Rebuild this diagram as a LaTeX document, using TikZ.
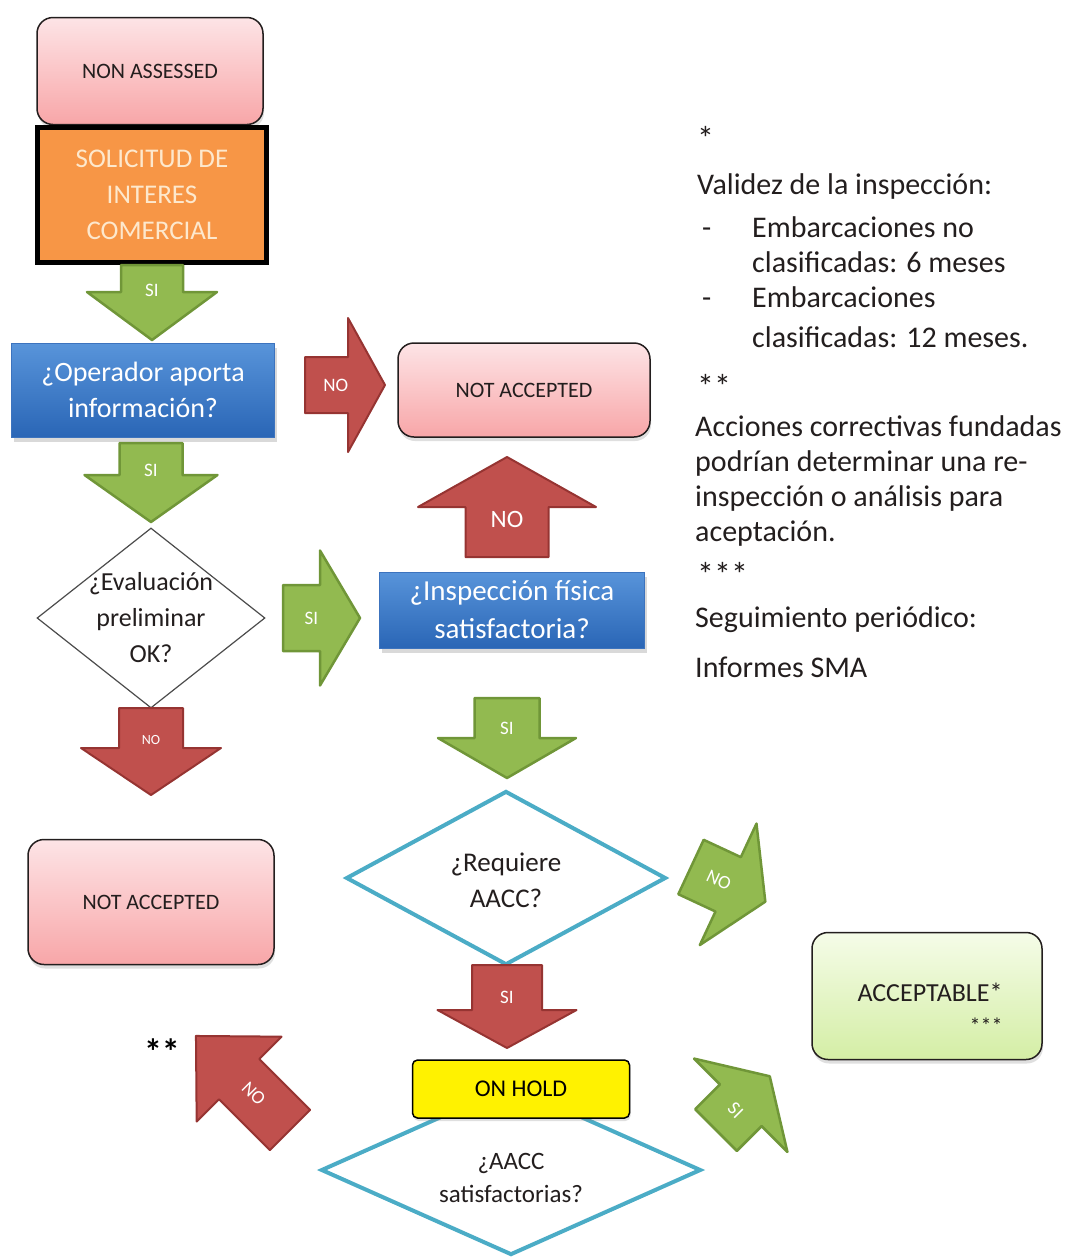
\documentclass[tikz,border=0pt]{standalone}
\usepackage{fontspec}
\setmainfont{Carlito}
\usepackage{tikz}
\usetikzlibrary{shapes.geometric,shadows}

\definecolor{pinktop}{RGB}{253,228,230}
\definecolor{pinkbot}{RGB}{248,166,168}
\definecolor{orangefill}{RGB}{247,150,70}
\definecolor{orangetext}{RGB}{253,232,205}
\definecolor{bluetop}{RGB}{88,148,218}
\definecolor{bluebot}{RGB}{42,102,182}
\definecolor{blueline}{RGB}{60,115,190}
\definecolor{arrowgreen}{RGB}{146,186,80}
\definecolor{arrowgreenline}{RGB}{112,150,56}
\definecolor{arrowred}{RGB}{192,80,77}
\definecolor{arrowredline}{RGB}{150,52,50}
\definecolor{diacyan}{RGB}{75,172,198}
\definecolor{greentop}{RGB}{245,252,232}
\definecolor{greenbot}{RGB}{212,238,165}
\definecolor{txt}{RGB}{35,30,30}

% style, name, tail, angle, length, shaft width, head width, head length
\newcommand{\fatarrow}[8]{%
  \begin{scope}[shift={#3}, rotate=#4]
    \path[#1] (0,-#6/2) -- (#5-#8,-#6/2) -- (#5-#8,-#7/2) -- (#5,0)
      -- (#5-#8,#7/2) -- (#5-#8,#6/2) -- (0,#6/2) -- cycle;
    \coordinate (#2) at (#5/2-#8/4,0);
  \end{scope}}

\tikzset{
  pinkbox/.style={draw=txt, line width=1.5pt, rounded corners=16pt, top color=pinktop, bottom color=pinkbot,
    text=txt, font=\fontsize{22}{26}\selectfont, drop shadow={shadow xshift=1pt, shadow yshift=-4pt, opacity=0.25}},
  bluebox/.style={draw=blueline, line width=1pt, top color=bluetop, bottom color=bluebot, text=white, align=center,
    drop shadow={shadow xshift=2pt, shadow yshift=-5pt, opacity=0.3}},
  greenarrow/.style={fill=arrowgreen, draw=arrowgreenline, line width=2.5pt, line join=round},
  redarrow/.style={fill=arrowred, draw=arrowredline, line width=2pt, line join=round},
  lbl/.style={text=white, font=\fontsize{19}{19}\selectfont, inner sep=1pt},
  dia/.style={diamond, draw=diacyan, line width=4pt, fill=white, inner sep=0pt},
  diatext/.style={align=center, text=txt},
  note/.style={anchor=base west, text=txt, font=\fontsize{30}{35}\selectfont, inner sep=0pt},
  stars/.style={anchor=base west, text=txt, font=\fontsize{34}{34}\selectfont, inner sep=0pt}
}

\begin{document}
\begin{tikzpicture}[x=1pt, y=1pt]
\useasboundingbox (0,0) rectangle (1072,-1259);

\node[pinkbox, minimum width=226pt, minimum height=107pt] (nonassessed) at (150,-71) {NON ASSESSED};
\node[draw=black, line width=5pt, fill=orangefill, minimum width=229pt, minimum height=135pt, text=orangetext,
  align=center, font=\fontsize{27}{36}\selectfont] (solicitud) at (152,-195) {SOLICITUD DE\\INTERES\\COMERCIAL};

\fatarrow{greenarrow}{si1}{(152,-265)}{-90}{75}{62}{130}{48}
\node[lbl] (si1text) at (si1) {SI};

\node[bluebox, minimum width=263pt, minimum height=94pt, font=\fontsize{28}{36}\selectfont] (operador) at (143,-390) {¿Operador aporta\\información?};

\fatarrow{greenarrow}{si2}{(151,-443)}{-90}{79}{63}{133}{47}
\node[lbl] (si2text) at (si2) {SI};

\node[dia, draw=black!70, line width=1.2pt, minimum width=228pt, minimum height=180pt] (evaluacion) at (151,-618) {};
\node[diatext, font=\fontsize{26}{36}\selectfont] (evaltext) at (evaluacion) {¿Evaluación\\preliminar\\OK?};

\fatarrow{redarrow}{no1}{(151,-708)}{-90}{87}{64}{140}{47}
\node[lbl, font=\fontsize{14}{14}\selectfont] (no1text) at (no1) {NO};

\node[pinkbox, minimum width=246pt, minimum height=125pt] (notacc1) at (151,-902) {NOT ACCEPTED};

\fatarrow{redarrow}{no2}{(305,-385)}{0}{80}{56}{134}{37}
\node[lbl] (no2text) at (no2) {NO};

\node[pinkbox, minimum width=252pt, minimum height=94pt] (notacc2) at (524,-390) {NOT ACCEPTED};

\fatarrow{redarrow}{no3}{(507,-557)}{90}{100}{83}{178}{50}
\node[lbl, font=\fontsize{25}{25}\selectfont] (no3text) at (no3) {NO};

\fatarrow{greenarrow}{si3}{(283,-618)}{0}{77}{66}{135}{40}
\node[lbl] (si3text) at (si3) {SI};

\node[bluebox, minimum width=265pt, minimum height=76pt, font=\fontsize{29}{38}\selectfont] (inspeccion) at (512,-610) {¿Inspección física\\satisfactoria?};

\fatarrow{greenarrow}{si4}{(507,-698)}{-90}{80}{65}{138}{40}
\node[lbl] (si4text) at (si4) {SI};

\node[dia, minimum width=320pt, minimum height=174pt] (requiere) at (506,-878) {};
\node[diatext, font=\fontsize{27}{36}\selectfont] (reqtext) at (506,-880) {¿Requiere\\AACC?};

\fatarrow{greenarrow}{no4}{(691,-867)}{-25}{82}{60}{134}{41}
\node[lbl, rotate=-25] (no4text) at (no4) {NO};

\node[draw=txt, line width=1.5pt, rounded corners=16pt, top color=greentop, bottom color=greenbot,
  minimum width=230pt, minimum height=127pt, drop shadow={shadow xshift=1pt, shadow yshift=-4pt, opacity=0.25}] (acceptable) at (927,-996) {};
\node[align=right, text=txt, font=\fontsize{26}{32}\selectfont] (acctext) at (930,-1008) {ACCEPTABLE*\\{\fontsize{22}{22}\selectfont ***}};

\fatarrow{redarrow}{si5}{(507,-965)}{-90}{83}{70}{139}{38}
\node[lbl] (si5text) at (si5) {SI};

\node[dia, minimum width=380pt, minimum height=170pt] (satisf) at (511,-1170) {};
\node[diatext, font=\fontsize{25}{33}\selectfont] (sattext) at (511,-1178) {¿AACC\\satisfactorias?};
\node[draw=black, line width=1.5pt, rounded corners=5pt, fill=yellow, minimum width=217pt, minimum height=58pt,
  font=\fontsize{24}{24}\selectfont, drop shadow={shadow xshift=1pt, shadow yshift=-3pt, opacity=0.25}] (onhold) at (521,-1089) {ON HOLD};

\fatarrow{redarrow}{no5}{(290,-1130)}{135}{133}{57}{120}{61}
\node[lbl, rotate=-45] (no5text) at (no5) {NO};
\node[font=\fontsize{36}{36}\selectfont\bfseries, text=black] (stars) at (162,-1052) {**};

\fatarrow{greenarrow}{si6}{(716,-1130)}{45}{76}{59}{132}{41}
\node[lbl, rotate=-45] (si6text) at (si6) {SI};

\node[stars] (n0) at (697,-150) {*};
\node[note] (n1) at (697,-194) {Validez de la inspección:};
\node[note] (d1) at (702,-237) {-};
\node[note] (n2) at (752,-237) {Embarcaciones no};
\node[note] (n3) at (752,-272) {clasificadas: 6 meses};
\node[note] (d2) at (702,-307) {-};
\node[note] (n4) at (752,-307) {Embarcaciones};
\node[note] (n5) at (752,-347) {clasificadas: 12 meses.};
\node[stars] (n6) at (697,-398) {**};
\node[note] (n7) at (695,-436) {Acciones correctivas fundadas};
\node[note] (n8) at (695,-471) {podrían determinar una re-};
\node[note] (n9) at (695,-506) {inspección o análisis para};
\node[note] (n10) at (695,-541) {aceptación.};
\node[stars] (n11) at (697,-586) {***};
\node[note] (n12) at (695,-627) {Seguimiento periódico:};
\node[note] (n13) at (695,-677) {Informes SMA};

\end{tikzpicture}
\end{document}
